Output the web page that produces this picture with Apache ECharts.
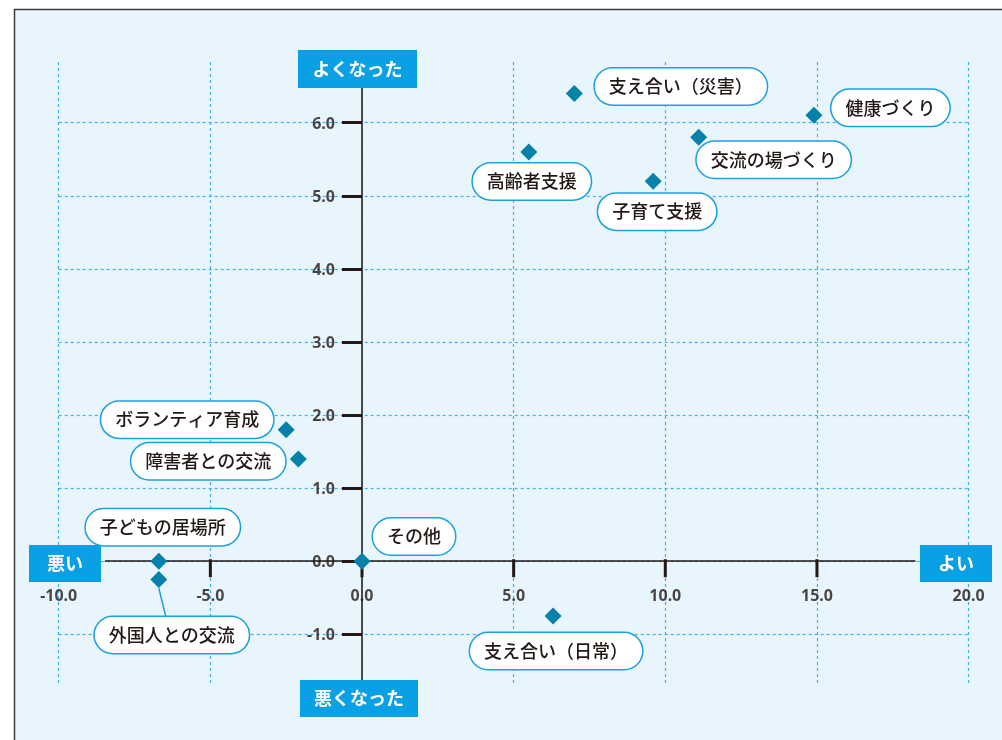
<!DOCTYPE html>
<html><head><meta charset="utf-8">
<script src="https://cdn.jsdelivr.net/npm/echarts@6/dist/echarts.min.js"></script>
<style>html,body{margin:0;padding:0;background:#fff}#c{width:1002px;height:740px}</style>
</head><body><div id="c"></div>
<script>
// ---- data ----
const names = ['支え合い（災害）','健康づくり','交流の場づくり','高齢者支援','子育て支援','ボランティア育成','障害者との交流','子どもの居場所','外国人との交流','その他','支え合い（日常）'];
const xValues = [7.0, 14.9, 11.1, 5.5, 9.6, -2.5, -2.1, -6.7, -6.7, 0.0, 6.3];
const yValues = [6.4, 6.1, 5.8, 5.6, 5.2, 1.8, 1.4, 0.0, -0.25, 0.0, -0.75];
const xTickValues = [-10, -5, 0, 5, 10, 15, 20];
const yTickValues = [-1, 0, 1, 2, 3, 4, 5, 6];
const axisTitleTop = 'よくなった';
const axisTitleBottom = '悪くなった';
const axisTitleLeft = '悪い';
const axisTitleRight = 'よい';

// ---- layout / style ----
const labelPlacement = {
  '支え合い（災害）': {position:'right', distance:12, offset:[0,-7]},
  '健康づくり': {position:'right', distance:9, offset:[0,-7.5]},
  '交流の場づくり': {position:'bottom', distance:-4, offset:[75,0]},
  '高齢者支援': {position:'bottom', distance:3, offset:[3,0]},
  '子育て支援': {position:'bottom', distance:4, offset:[4,0]},
  'ボランティア育成': {position:'left', distance:4.5, offset:[0,-10]},
  '障害者との交流': {position:'left', distance:4.5, offset:[0,2.4]},
  '子どもの居場所': {position:'top', distance:7.5, offset:[4,0]},
  '外国人との交流': {position:'bottom', distance:29, offset:[13,0]},
  'その他': {position:'right', distance:2.5, offset:[0,-24.7]},
  '支え合い（日常）': {position:'bottom', distance:8.5, offset:[3,0]}
};
const ink = '#231815';
const blue = '#0aa0e4';
const gridLineStyle = {color:'#3db2ea', type:[3,3], width:1.2};
const jp = '"Noto Sans CJK JP", "Noto Sans", sans-serif';
const tickFont = {fontSize:16, fontWeight:'bold', color:ink, fontFamily:'"Noto Sans", sans-serif'};

const chart = echarts.init(document.getElementById('c'), null, {renderer:'canvas'});

function titleBox(x, y, w, h, text) {
  return {
    type:'group', left:x, top:y, z:100,
    children:[
      {type:'rect', shape:{x:0,y:0,width:w,height:h}, style:{fill:blue}, z:100},
      {type:'text', x:w/2, y:h/2, z:101, style:{text:text, fill:'#fff', font:'bold 18px ' + jp, align:'center', verticalAlign:'middle'}}
    ]
  };
}

const option = {
  backgroundColor:'#ffffff',
  animation:false,
  grid:{left:58.7, width:909.9, top:62, height:622, containLabel:false},
  xAxis:{
    type:'value', min:xTickValues[0], max:xTickValues[xTickValues.length-1], interval:5,
    axisLine:{show:false, onZero:true},
    axisTick:{show:false},
    axisLabel:{show:false},
    splitLine:{show:true, lineStyle:gridLineStyle}
  },
  yAxis:{
    type:'value', min:-1.68, max:6.83, minInterval:1, maxInterval:1,
    axisLine:{show:true, onZero:true, lineStyle:{color:'#4a4a4a', width:2}},
    axisTick:{show:true, length:20, lineStyle:{color:ink, width:3}, customValues:yTickValues},
    axisLabel:{show:false},
    splitLine:{show:true, lineStyle:gridLineStyle}
  },
  graphic:{elements:[
    {type:'rect', z:-100, shape:{x:14.5, y:9.5, width:1100, height:800}, style:{fill:'#e8f5fd', stroke:'#3c3c3c', lineWidth:1.5}},
    titleBox(298, 50, 119, 38, axisTitleTop),
    titleBox(300, 680, 118, 37, axisTitleBottom),
    titleBox(29, 545, 72, 37, axisTitleLeft),
    titleBox(920, 545, 72, 37, axisTitleRight)
  ]},
  series:[
    {
      // horizontal axis line
      type:'scatter', z:1, data:[], silent:true,
      markLine:{silent:true, symbol:'none', label:{show:false},
        lineStyle:{color:ink, width:1.5, type:'solid'},
        data:[[{coord:[-8.48,0]},{coord:[18.25,0]}]]}
    },
    {
      // x tick marks
      type:'scatter', z:2, silent:true, symbol:'rect', symbolSize:[3,18], symbolOffset:[0,7],
      itemStyle:{color:ink, opacity:1},
      data:xTickValues.map(v=>[v,0])
    },
    {
      // x tick labels
      type:'scatter', z:3, silent:true, symbol:'circle', symbolSize:0,
      itemStyle:{color:'transparent'},
      label:Object.assign({show:true, position:'bottom', distance:27, formatter:p=>p.value[0].toFixed(1)}, tickFont),
      data:xTickValues.map(v=>[v,0])
    },
    {
      // y tick labels
      type:'scatter', z:3, silent:true, symbol:'circle', symbolSize:0,
      itemStyle:{color:'transparent'},
      label:Object.assign({show:true, position:'left', distance:27, offset:[0,1.5], formatter:p=>p.value[1].toFixed(1)}, tickFont),
      data:yTickValues.map(v=>[0,v])
    },
    {
      type:'scatter', z:5,
      symbol:'diamond', symbolSize:17,
      itemStyle:{color:'#0681a7', opacity:1},
      label:{show:true, formatter:'{b}', fontFamily:jp, fontSize:18, fontWeight:500, lineHeight:20, color:ink,
        backgroundColor:'#fff', borderColor:'#1ea0dc', borderWidth:1.5, borderRadius:18, padding:[8,14]},
      data:names.map((n,i)=>{
        const item = {name:n, value:[xValues[i], yValues[i]], label:labelPlacement[n]};
        if (n === '外国人との交流') item.labelLine = {show:true, lineStyle:{color:'#1ea0dc', width:1.5}};
        return item;
      })
    }
  ]
};
chart.setOption(option);
</script></body></html>
